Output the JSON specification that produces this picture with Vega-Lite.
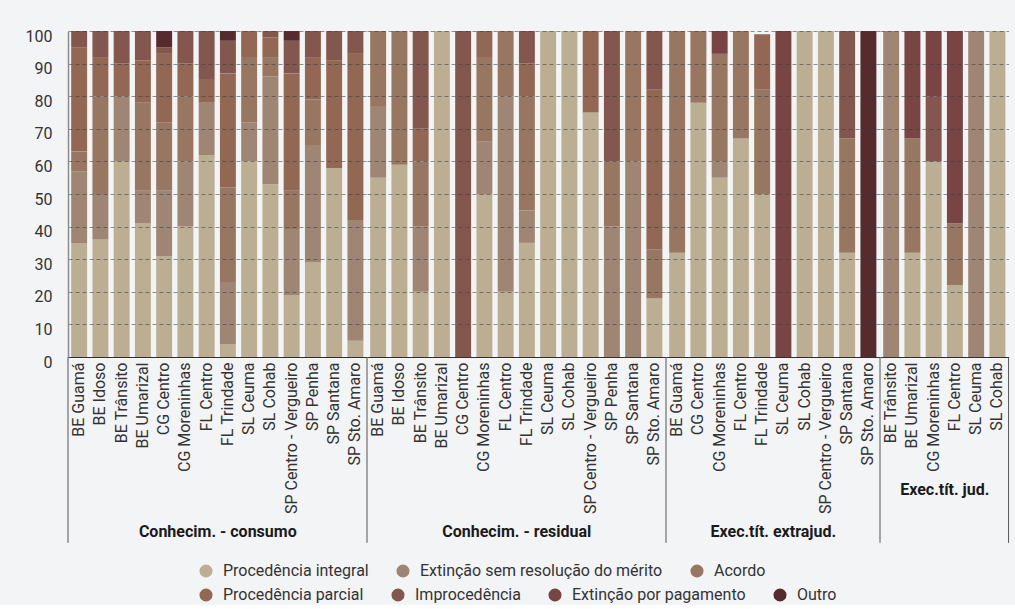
{
  "$schema": "https://vega.github.io/schema/vega-lite/v6.json",
  "background": "#f3f4f6",
  "padding": {"left": 25, "top": 28, "right": 5, "bottom": 2},
  "bounds": "flush",
  "data": {"values": [
    {"g": "Conhecim. - consumo", "loc": "BE Guamá", "Procedência integral": 35, "Extinção sem resolução do mérito": 22, "Acordo": 6, "Procedência parcial": 32, "Improcedência": 5},
    {"g": "Conhecim. - consumo", "loc": "BE Idoso", "Procedência integral": 36, "Extinção sem resolução do mérito": 14, "Acordo": 30, "Procedência parcial": 12, "Improcedência": 8},
    {"g": "Conhecim. - consumo", "loc": "BE Trânsito", "Procedência integral": 60, "Extinção sem resolução do mérito": 20, "Procedência parcial": 10, "Improcedência": 10},
    {"g": "Conhecim. - consumo", "loc": "BE Umarizal", "Procedência integral": 41, "Extinção sem resolução do mérito": 10, "Acordo": 27, "Procedência parcial": 13, "Improcedência": 9},
    {"g": "Conhecim. - consumo", "loc": "CG Centro", "Procedência integral": 31, "Extinção sem resolução do mérito": 20, "Acordo": 21, "Procedência parcial": 21, "Improcedência": 2, "Outro": 5},
    {"g": "Conhecim. - consumo", "loc": "CG Moreninhas", "Procedência integral": 40, "Extinção sem resolução do mérito": 20, "Acordo": 20, "Procedência parcial": 10, "Improcedência": 10},
    {"g": "Conhecim. - consumo", "loc": "FL Centro", "Procedência integral": 62, "Extinção sem resolução do mérito": 16, "Procedência parcial": 7, "Improcedência": 15},
    {"g": "Conhecim. - consumo", "loc": "FL Trindade", "Procedência integral": 4, "Extinção sem resolução do mérito": 19, "Acordo": 29, "Procedência parcial": 35, "Improcedência": 10, "Outro": 3},
    {"g": "Conhecim. - consumo", "loc": "SL Ceuma", "Procedência integral": 60, "Extinção sem resolução do mérito": 12, "Acordo": 20, "Procedência parcial": 8},
    {"g": "Conhecim. - consumo", "loc": "SL Cohab", "Procedência integral": 53, "Extinção sem resolução do mérito": 33, "Acordo": 6, "Procedência parcial": 6, "Improcedência": 2},
    {"g": "Conhecim. - consumo", "loc": "SP Centro - Vergueiro", "Procedência integral": 19, "Extinção sem resolução do mérito": 20, "Acordo": 12, "Procedência parcial": 36, "Improcedência": 10, "Outro": 3},
    {"g": "Conhecim. - consumo", "loc": "SP Penha", "Procedência integral": 29, "Extinção sem resolução do mérito": 36, "Acordo": 14, "Procedência parcial": 13, "Improcedência": 8},
    {"g": "Conhecim. - consumo", "loc": "SP Santana", "Procedência integral": 58, "Procedência parcial": 33, "Improcedência": 9},
    {"g": "Conhecim. - consumo", "loc": "SP Sto. Amaro", "Procedência integral": 5, "Extinção sem resolução do mérito": 37, "Procedência parcial": 51, "Improcedência": 7},
    {"g": "Conhecim. - residual", "loc": "BE Guamá", "Procedência integral": 55, "Extinção sem resolução do mérito": 22, "Acordo": 23},
    {"g": "Conhecim. - residual", "loc": "BE Idoso", "Procedência integral": 59, "Acordo": 41},
    {"g": "Conhecim. - residual", "loc": "BE Trânsito", "Procedência integral": 20, "Extinção sem resolução do mérito": 20, "Acordo": 20, "Procedência parcial": 10, "Improcedência": 30},
    {"g": "Conhecim. - residual", "loc": "BE Umarizal", "Procedência integral": 100},
    {"g": "Conhecim. - residual", "loc": "CG Centro", "Improcedência": 100},
    {"g": "Conhecim. - residual", "loc": "CG Moreninhas", "Procedência integral": 50, "Extinção sem resolução do mérito": 16, "Acordo": 26, "Procedência parcial": 8},
    {"g": "Conhecim. - residual", "loc": "FL Centro", "Procedência integral": 20, "Extinção sem resolução do mérito": 60, "Acordo": 20},
    {"g": "Conhecim. - residual", "loc": "FL Trindade", "Procedência integral": 35, "Extinção sem resolução do mérito": 10, "Acordo": 35, "Procedência parcial": 10, "Improcedência": 10},
    {"g": "Conhecim. - residual", "loc": "SL Ceuma", "Procedência integral": 100},
    {"g": "Conhecim. - residual", "loc": "SL Cohab", "Procedência integral": 100},
    {"g": "Conhecim. - residual", "loc": "SP Centro - Vergueiro", "Procedência integral": 75, "Procedência parcial": 25},
    {"g": "Conhecim. - residual", "loc": "SP Penha", "Extinção sem resolução do mérito": 40, "Acordo": 20, "Improcedência": 40},
    {"g": "Conhecim. - residual", "loc": "SP Santana", "Extinção sem resolução do mérito": 60, "Acordo": 40},
    {"g": "Conhecim. - residual", "loc": "SP Sto. Amaro", "Procedência integral": 18, "Acordo": 15, "Procedência parcial": 49, "Improcedência": 18},
    {"g": "Exec.tít. extrajud.", "loc": "BE Guamá", "Procedência integral": 32, "Acordo": 68},
    {"g": "Exec.tít. extrajud.", "loc": "CG Centro", "Procedência integral": 78, "Acordo": 22},
    {"g": "Exec.tít. extrajud.", "loc": "CG Moreninhas", "Procedência integral": 55, "Extinção sem resolução do mérito": 5, "Acordo": 33, "Extinção por pagamento": 7},
    {"g": "Exec.tít. extrajud.", "loc": "FL Centro", "Procedência integral": 67, "Acordo": 33},
    {"g": "Exec.tít. extrajud.", "loc": "FL Trindade", "Procedência integral": 50, "Acordo": 32, "Procedência parcial": 17},
    {"g": "Exec.tít. extrajud.", "loc": "SL Ceuma", "Extinção por pagamento": 100},
    {"g": "Exec.tít. extrajud.", "loc": "SL Cohab", "Procedência integral": 100},
    {"g": "Exec.tít. extrajud.", "loc": "SP Centro - Vergueiro", "Procedência integral": 100},
    {"g": "Exec.tít. extrajud.", "loc": "SP Santana", "Procedência integral": 32, "Acordo": 35, "Improcedência": 33},
    {"g": "Exec.tít. extrajud.", "loc": "SP Sto. Amaro", "Outro": 100},
    {"g": "Exec.tít. jud.", "loc": "BE Trânsito", "Extinção sem resolução do mérito": 100},
    {"g": "Exec.tít. jud.", "loc": "BE Umarizal", "Procedência integral": 32, "Acordo": 35, "Extinção por pagamento": 33},
    {"g": "Exec.tít. jud.", "loc": "CG Moreninhas", "Procedência integral": 60, "Improcedência": 20, "Extinção por pagamento": 20},
    {"g": "Exec.tít. jud.", "loc": "FL Centro", "Procedência integral": 22, "Acordo": 19, "Extinção por pagamento": 59},
    {"g": "Exec.tít. jud.", "loc": "SL Ceuma", "Extinção sem resolução do mérito": 100},
    {"g": "Exec.tít. jud.", "loc": "SL Cohab", "Procedência integral": 100}
  ]},
  "transform": [
    {"fold": ["Procedência integral", "Extinção sem resolução do mérito", "Acordo", "Procedência parcial", "Improcedência", "Extinção por pagamento", "Outro"], "as": ["cat", "v"]},
    {"filter": "datum.v > 0"},
    {"calculate": "indexof(['Procedência integral', 'Extinção sem resolução do mérito', 'Acordo', 'Procedência parcial', 'Improcedência', 'Extinção por pagamento', 'Outro'], datum.cat)", "as": "ord"}
  ],
  "spacing": 0,
  "hconcat": [
    {
      "transform": [{"filter": "datum.g === 'Conhecim. - consumo'"}],
      "width": {"step": 21.25}, "height": 326,
      "layer": [
        {
          "mark": {"type": "bar"},
          "encoding": {
            "x": {"field": "loc", "type": "nominal", "sort": null, "scale": {"paddingInner": 0.25, "paddingOuter": 0.15}, "axis": {"title": "Conhecim. - consumo"}},
            "y": {"field": "v", "type": "quantitative", "stack": "zero", "scale": {"domain": [0, 100], "nice": false}, "axis": {"title": null, "values": [0, 10, 20, 30, 40, 50, 60, 70, 80, 90, 100], "tickCount": 11, "zindex": 1}},
            "color": {"field": "cat", "type": "nominal",
              "scale": {"domain": ["Procedência integral", "Extinção sem resolução do mérito", "Acordo", "Procedência parcial", "Improcedência", "Extinção por pagamento", "Outro"],
                        "range": ["#bcae93", "#9f8674", "#987762", "#926754", "#83574d", "#784544", "#562b2e"]},
              "legend": {"title": null, "values": ["Procedência integral", "Extinção sem resolução do mérito", "Acordo"], "symbolType": "circle"}},
            "order": {"field": "ord", "type": "quantitative", "sort": "ascending"}
          }
        },
        {
          "transform": [{"filter": {"field": "cat", "oneOf": ["Procedência parcial", "Improcedência", "Extinção por pagamento", "Outro"]}}],
          "mark": {"type": "point", "filled": true, "size": 0, "opacity": 1},
          "encoding": {
            "fill": {"field": "cat", "type": "nominal",
              "scale": {"domain": ["Procedência parcial", "Improcedência", "Extinção por pagamento", "Outro"], "range": ["#926754", "#83574d", "#784544", "#562b2e"]},
              "legend": {"title": null, "symbolType": "circle", "symbolOpacity": 1}}
          }
        },
        {
          "transform": [{"aggregate": [{"op": "count", "as": "n"}]}],
          "mark": {"type": "rule", "color": "#555555", "strokeWidth": 1, "clip": false},
          "encoding": {"x": {"value": 0}, "y": {"datum": 0, "type": "quantitative", "title": null, "axis": {"values": [0, 10, 20, 30, 40, 50, 60, 70, 80, 90, 100], "tickCount": 11}}, "y2": {"datum": -57}}
        }
      ]
    },
    {
      "transform": [{"filter": "datum.g === 'Conhecim. - residual'"}],
      "width": {"step": 21.25}, "height": 326,
      "layer": [
        {
          "mark": {"type": "bar"},
          "encoding": {
            "x": {"field": "loc", "type": "nominal", "sort": null, "scale": {"paddingInner": 0.25, "paddingOuter": 0.15}, "axis": {"title": "Conhecim. - residual"}},
            "y": {"field": "v", "type": "quantitative", "stack": "zero", "scale": {"domain": [0, 100], "nice": false}, "axis": {"title": null, "values": [0, 10, 20, 30, 40, 50, 60, 70, 80, 90, 100], "tickCount": 11, "labels": false, "domain": false, "zindex": 1}},
            "color": {"field": "cat", "type": "nominal",
              "scale": {"domain": ["Procedência integral", "Extinção sem resolução do mérito", "Acordo", "Procedência parcial", "Improcedência", "Extinção por pagamento", "Outro"],
                        "range": ["#bcae93", "#9f8674", "#987762", "#926754", "#83574d", "#784544", "#562b2e"]},
              "legend": {"title": null, "values": ["Procedência integral", "Extinção sem resolução do mérito", "Acordo"], "symbolType": "circle"}},
            "order": {"field": "ord", "type": "quantitative", "sort": "ascending"}
          }
        },
        {
          "transform": [{"aggregate": [{"op": "count", "as": "n"}]}],
          "mark": {"type": "rule", "color": "#555555", "strokeWidth": 1, "clip": false},
          "encoding": {"x": {"value": 0}, "y": {"datum": 0, "type": "quantitative", "title": null, "axis": {"values": [0, 10, 20, 30, 40, 50, 60, 70, 80, 90, 100], "tickCount": 11, "labels": false, "domain": false}}, "y2": {"datum": -57}}
        }
      ]
    },
    {
      "transform": [{"filter": "datum.g === 'Exec.tít. extrajud.'"}],
      "width": {"step": 21.25}, "height": 326,
      "layer": [
        {
          "mark": {"type": "bar"},
          "encoding": {
            "x": {"field": "loc", "type": "nominal", "sort": null, "scale": {"paddingInner": 0.25, "paddingOuter": 0.15}, "axis": {"title": "Exec.tít. extrajud."}},
            "y": {"field": "v", "type": "quantitative", "stack": "zero", "scale": {"domain": [0, 100], "nice": false}, "axis": {"title": null, "values": [0, 10, 20, 30, 40, 50, 60, 70, 80, 90, 100], "tickCount": 11, "labels": false, "domain": false, "zindex": 1}},
            "color": {"field": "cat", "type": "nominal",
              "scale": {"domain": ["Procedência integral", "Extinção sem resolução do mérito", "Acordo", "Procedência parcial", "Improcedência", "Extinção por pagamento", "Outro"],
                        "range": ["#bcae93", "#9f8674", "#987762", "#926754", "#83574d", "#784544", "#562b2e"]},
              "legend": {"title": null, "values": ["Procedência integral", "Extinção sem resolução do mérito", "Acordo"], "symbolType": "circle"}},
            "order": {"field": "ord", "type": "quantitative", "sort": "ascending"}
          }
        },
        {
          "transform": [{"aggregate": [{"op": "count", "as": "n"}]}],
          "mark": {"type": "rule", "color": "#555555", "strokeWidth": 1, "clip": false},
          "encoding": {"x": {"value": 0}, "y": {"datum": 0, "type": "quantitative", "title": null, "axis": {"values": [0, 10, 20, 30, 40, 50, 60, 70, 80, 90, 100], "tickCount": 11, "labels": false, "domain": false}}, "y2": {"datum": -57}}
        }
      ]
    },
    {
      "transform": [{"filter": "datum.g === 'Exec.tít. jud.'"}],
      "width": {"step": 21.25}, "height": 326,
      "layer": [
        {
          "mark": {"type": "bar"},
          "encoding": {
            "x": {"field": "loc", "type": "nominal", "sort": null, "scale": {"paddingInner": 0.25, "paddingOuter": 0.15}, "axis": {"title": "Exec.tít. jud."}},
            "y": {"field": "v", "type": "quantitative", "stack": "zero", "scale": {"domain": [0, 100], "nice": false}, "axis": {"title": null, "values": [0, 10, 20, 30, 40, 50, 60, 70, 80, 90, 100], "tickCount": 11, "labels": false, "domain": false, "zindex": 1}},
            "color": {"field": "cat", "type": "nominal",
              "scale": {"domain": ["Procedência integral", "Extinção sem resolução do mérito", "Acordo", "Procedência parcial", "Improcedência", "Extinção por pagamento", "Outro"],
                        "range": ["#bcae93", "#9f8674", "#987762", "#926754", "#83574d", "#784544", "#562b2e"]},
              "legend": {"title": null, "values": ["Procedência integral", "Extinção sem resolução do mérito", "Acordo"], "symbolType": "circle"}},
            "order": {"field": "ord", "type": "quantitative", "sort": "ascending"}
          }
        },
        {
          "transform": [{"aggregate": [{"op": "count", "as": "n"}]}],
          "mark": {"type": "rule", "color": "#555555", "strokeWidth": 1, "clip": false},
          "encoding": {"x": {"value": 0}, "y": {"datum": 0, "type": "quantitative", "title": null, "axis": {"values": [0, 10, 20, 30, 40, 50, 60, 70, 80, 90, 100], "tickCount": 11, "labels": false, "domain": false}}, "y2": {"datum": -57}}
        },
        {
          "transform": [{"filter": "datum.loc === 'SL Cohab'"}, {"aggregate": [{"op": "count", "as": "n"}], "groupby": ["loc"]}],
          "mark": {"type": "rule", "color": "#555555", "strokeWidth": 1, "clip": false},
          "encoding": {"x": {"field": "loc", "type": "nominal", "sort": null, "bandPosition": 1.2}, "y": {"datum": 0, "type": "quantitative", "title": null, "axis": {"values": [0, 10, 20, 30, 40, 50, 60, 70, 80, 90, 100], "tickCount": 11, "labels": false, "domain": false}}, "y2": {"datum": -57}}
        }
      ]
    }
  ],
  "config": {
    "font": "Roboto",
    "view": {"stroke": null},
    "concat": {"spacing": 0},
    "axis": {"labelFont": "Roboto", "labelFontSize": 16, "labelColor": "#333333", "titleFont": "Roboto"},
    "axisX": {"labelAngle": -90, "labelAlign": "right", "labelBaseline": "middle", "labelPadding": 5, "labelFontSize": 16, "ticks": false, "domainColor": "#2b2b2b", "domainWidth": 1, "labelLimit": 300, "grid": false,
              "titleFontSize": 16, "titleFontWeight": "bold", "titleColor": "#1a1a1a", "titlePadding": 10},
    "axisY": {"grid": true, "gridDash": [4, 3], "gridColor": "#3a3a3a", "gridOpacity": 0.55, "ticks": false, "domainColor": "#8c8c8c", "domainWidth": 1.5, "labelPadding": 16, "labelOffset": 5, "labelOverlap": false},
    "legend": {
      "orient": "bottom", "direction": "horizontal",
      "labelFont": "Roboto", "labelFontSize": 16, "labelColor": "#333333", "labelLimit": 500,
      "symbolType": "circle", "symbolSize": 170, "symbolStrokeWidth": 0,
      "labelOffset": 9, "columnPadding": 26, "offset": 19,
      "layout": {"bottom": {"anchor": "middle", "direction": "vertical", "center": false, "margin": 8}}
    }
  }
}
